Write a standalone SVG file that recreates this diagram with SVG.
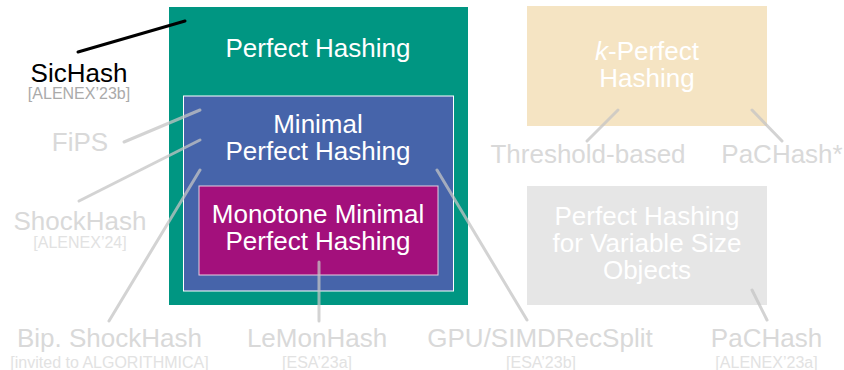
<svg xmlns="http://www.w3.org/2000/svg" width="844" height="370" viewBox="0 0 844 370">
<style>
text{font-family:"Liberation Sans",Arial,Helvetica,sans-serif;text-anchor:middle}
.box{font-size:26px;fill:#ffffff}
.lbl{font-size:26px;fill:#d9d9d9}
.cite{font-size:16px;fill:#e2e2e2}
.conn{stroke:#c4c4c4;stroke-opacity:0.75;stroke-width:3;stroke-linecap:round;fill:none}
</style>
<g id="perfect-hashing">
<rect x="169" y="7" width="299" height="298" fill="#009682"/>
<text class="box" x="318" y="57">Perfect Hashing</text>
</g>
<g id="minimal-perfect-hashing">
<rect x="183.5" y="96" width="270" height="195" fill="#4664AA" stroke="#ffffff" stroke-width="1"/>
<text class="box" x="318" y="133">Minimal</text>
<text class="box" x="318" y="160">Perfect Hashing</text>
</g>
<g id="monotone-minimal-perfect-hashing">
<rect x="199" y="186" width="239" height="89" fill="#A3107C" stroke="#e6cfe0" stroke-width="1"/>
<text class="box" x="318" y="223">Monotone Minimal</text>
<text class="box" x="318" y="250">Perfect Hashing</text>
</g>
<g id="k-perfect-hashing">
<rect x="527" y="6" width="240" height="120" fill="#F5E4C3"/>
<text class="box" x="647" y="60"><tspan font-style="italic">k</tspan>-Perfect</text>
<text class="box" x="647" y="87">Hashing</text>
</g>
<g id="variable-size">
<rect x="527" y="186" width="240" height="119" fill="#E6E6E6"/>
<text class="box" x="647" y="225">Perfect Hashing</text>
<text class="box" x="647" y="252">for Variable Size</text>
<text class="box" x="647" y="279">Objects</text>
</g>
<g id="connectors">
<line x1="78" y1="52" x2="185" y2="21" stroke="#000000" stroke-width="3" stroke-linecap="round"/>
<line class="conn" x1="124" y1="142" x2="200" y2="110"/>
<line class="conn" x1="79" y1="201" x2="200" y2="140"/>
<line class="conn" x1="109" y1="321" x2="200" y2="170"/>
<line class="conn" x1="319" y1="262" x2="319" y2="321"/>
<line class="conn" x1="437" y1="170" x2="527" y2="320"/>
<line class="conn" x1="618" y1="110" x2="587" y2="141"/>
<line class="conn" x1="752" y1="110" x2="782" y2="141"/>
<line class="conn" x1="752" y1="290" x2="767" y2="320"/>
</g>
<g id="sichash">
<text x="79" y="82" font-size="26" fill="#000000">SicHash</text>
<text x="79" y="99" font-size="16" fill="#aaaaaa">[ALENEX’23b]</text>
</g>
<g id="fips">
<text class="lbl" x="80" y="151">FiPS</text>
</g>
<g id="shockhash">
<text class="lbl" x="80" y="230">ShockHash</text>
<text class="cite" x="80" y="248">[ALENEX’24]</text>
</g>
<g id="bip-shockhash">
<text class="lbl" x="109.5" y="347">Bip. ShockHash</text>
<text class="cite" x="109.5" y="368">[invited to ALGORITHMICA]</text>
</g>
<g id="lemonhash">
<text class="lbl" x="317" y="347">LeMonHash</text>
<text class="cite" x="317" y="368">[ESA’23a]</text>
</g>
<g id="gpu-simdrecsplit">
<text class="lbl" x="540" y="347">GPU/SIMDRecSplit</text>
<text class="cite" x="541" y="368">[ESA’23b]</text>
</g>
<g id="pachash">
<text class="lbl" x="766.5" y="347">PaCHash</text>
<text class="cite" x="766.5" y="368">[ALENEX’23a]</text>
</g>
<g id="threshold-based">
<text class="lbl" x="588" y="163">Threshold-based</text>
</g>
<g id="pachash-star">
<text class="lbl" x="782" y="163">PaCHash*</text>
</g>
</svg>
